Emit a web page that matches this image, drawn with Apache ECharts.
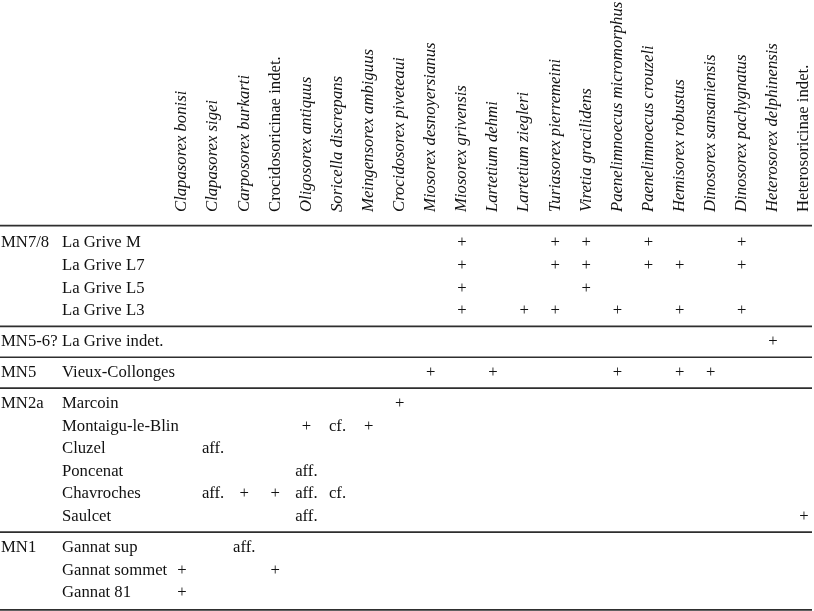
<!DOCTYPE html>
<html><head><meta charset="utf-8">
<script src="https://cdn.jsdelivr.net/npm/echarts@6/dist/echarts.min.js"></script>
<style>html,body{margin:0;padding:0;background:#fff}#c{width:814px;height:611px}</style>
</head><body><div id="c"></div>
<script>
// ---- data ----
const columns = ['Clapasorex bonisi','Clapasorex sigei','Carposorex burkarti','Crocidosoricinae indet.','Oligosorex antiquus','Soricella discrepans','Meingensorex ambiguus','Crocidosorex piveteaui','Miosorex desnoyersianus','Miosorex grivensis','Lartetium dehmi','Lartetium ziegleri','Turiasorex pierremeini','Viretia gracilidens','Paenelimnoecus micromorphus','Paenelimnoecus crouzeli','Hemisorex robustus','Dinosorex sansaniensis','Dinosorex pachygnatus','Heterosorex delphinensis','Heterosoricinae indet.'];
const groups = ['MN7/8','MN5-6?','MN5','MN2a','MN1'];
const sites = ['La Grive M','La Grive L7','La Grive L5','La Grive L3','La Grive indet.','Vieux-Collonges','Marcoin','Montaigu-le-Blin','Cluzel','Poncenat','Chavroches','Saulcet','Gannat sup','Gannat sommet','Gannat 81'];
const siteGroup = [0,0,0,0,1,2,3,3,3,3,3,3,4,4,4];
// [site index, column index, mark]
const occurrences = [
  [0,9,'+'],[0,12,'+'],[0,13,'+'],[0,15,'+'],[0,18,'+'],
  [1,9,'+'],[1,12,'+'],[1,13,'+'],[1,15,'+'],[1,16,'+'],[1,18,'+'],
  [2,9,'+'],[2,13,'+'],
  [3,9,'+'],[3,11,'+'],[3,12,'+'],[3,14,'+'],[3,16,'+'],[3,18,'+'],
  [4,19,'+'],
  [5,8,'+'],[5,10,'+'],[5,14,'+'],[5,16,'+'],[5,17,'+'],
  [6,7,'+'],
  [7,4,'+'],[7,5,'cf.'],[7,6,'+'],
  [8,1,'aff.'],
  [9,4,'aff.'],
  [10,1,'aff.'],[10,2,'+'],[10,3,'+'],[10,4,'aff.'],[10,5,'cf.'],
  [11,4,'aff.'],[11,20,'+'],
  [12,2,'aff.'],
  [13,0,'+'],[13,3,'+'],
  [14,0,'+']
];

// ---- layout ----
const W = 814, H = 611;
const COL0 = 182, COLSTEP = 31.1, LINE_END = 812;
const ROW0 = 243, ROWSTEP = 22.6, GAP = 0.37;
const xMin = -COL0 / COLSTEP, xMax = (LINE_END - COL0) / COLSTEP;
const yMin = -ROW0 / ROWSTEP, yMax = (H - ROW0) / ROWSTEP;
const pxX = p => (p - COL0) / COLSTEP;
const pxY = p => (p - ROW0) / ROWSTEP;
const rowPos = r => r + GAP * siteGroup[r];

const FONT = '"Liberation Serif", "Times New Roman", serif';
const FS = 16.7;
const TXT = '#111';

const headerY = pxY(212);
const groupX = pxX(1), siteX = pxX(62);

// separators
const seps = [rowPos(0) - 0.77];
for (let r = 1; r < sites.length; r++) {
  if (siteGroup[r] !== siteGroup[r-1]) seps.push((rowPos(r) + rowPos(r-1)) / 2);
}
seps.push(rowPos(sites.length - 1) + 0.75);

const groupRows = groups.map((g, gi) => [siteGroup.indexOf(gi), g]);

const chart = echarts.init(document.getElementById('c'), null, {renderer: 'canvas'});
chart.setOption({
  animation: false,
  backgroundColor: '#fff',
  grid: {left: 0, right: W - LINE_END, top: 0, bottom: 0},
  xAxis: {type: 'value', min: xMin, max: xMax, show: false},
  yAxis: {type: 'value', min: yMin, max: yMax, inverse: true, show: false},
  series: [
    {
      type: 'custom', name: 'lines', silent: true,
      data: seps.map(v => [v]),
      renderItem: (params, api) => {
        const v = api.value(0);
        const a = api.coord([xMin, v]), b = api.coord([xMax, v]);
        return {type: 'line', shape: {x1: a[0], y1: a[1], x2: b[0], y2: b[1]},
          style: {stroke: '#2e2e2e', lineWidth: 1.7}};
      }
    },
    {
      type: 'custom', name: 'header', silent: true,
      data: columns.map((c, i) => [i, headerY, c]),
      renderItem: (params, api) => {
        const p = api.coord([api.value(0), api.value(1)]);
        const name = columns[params.dataIndex];
        const italic = !/indet\.$/.test(name);
        return {type: 'text', x: p[0], y: p[1], rotation: Math.PI / 2,
          style: {text: name, fontFamily: FONT, fontSize: FS, fontStyle: italic ? 'italic' : 'normal',
            fill: TXT, align: 'left', verticalAlign: 'middle'}};
      }
    },
    {
      type: 'custom', name: 'groups', silent: true,
      data: groupRows.map(([r, g]) => [groupX, rowPos(r), g]),
      renderItem: (params, api) => {
        const p = api.coord([api.value(0), api.value(1)]);
        return {type: 'text', x: p[0], y: p[1],
          style: {text: groupRows[params.dataIndex][1], fontFamily: FONT, fontSize: FS, fill: TXT,
            align: 'left', verticalAlign: 'middle'}};
      }
    },
    {
      type: 'custom', name: 'sites', silent: true,
      data: sites.map((s, r) => [siteX, rowPos(r), s]),
      renderItem: (params, api) => {
        const p = api.coord([api.value(0), api.value(1)]);
        return {type: 'text', x: p[0], y: p[1],
          style: {text: sites[params.dataIndex], fontFamily: FONT, fontSize: FS, fill: TXT,
            align: 'left', verticalAlign: 'middle'}};
      }
    },
    {
      type: 'custom', name: 'cells', silent: true,
      data: occurrences.map(([s, c, m]) => [c, rowPos(s), m]),
      renderItem: (params, api) => {
        const p = api.coord([api.value(0), api.value(1)]);
        return {type: 'text', x: p[0], y: p[1],
          style: {text: occurrences[params.dataIndex][2], fontFamily: FONT, fontSize: FS, fill: TXT,
            align: 'center', verticalAlign: 'middle'}};
      }
    }
  ]
});
</script></body></html>
